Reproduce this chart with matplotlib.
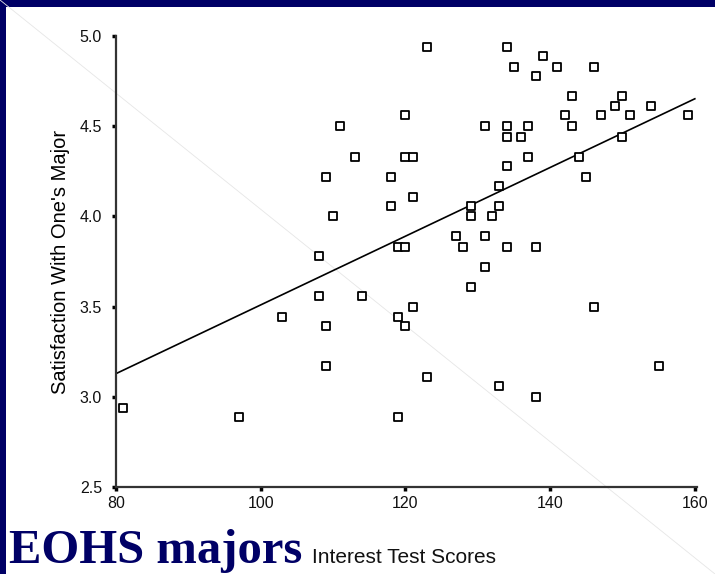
import numpy as np
import matplotlib
matplotlib.use('Agg')
import matplotlib.pyplot as plt
from matplotlib.patches import Rectangle

# interest test score / satisfaction pairs
scores = [81, 97, 103, 108, 108, 109, 109, 109, 110, 111,
          113, 114, 118, 118, 119, 119, 119, 120, 120, 120,
          120, 121, 121, 121, 123, 123, 127, 128, 129, 129,
          129, 131, 131, 131, 132, 133, 133, 133, 134, 134,
          134, 134, 134, 135, 136, 137, 137, 138, 138, 138,
          139, 141, 142, 143, 143, 144, 145, 146, 146, 147,
          149, 150, 150, 151, 154, 155, 159]
satisfaction = [2.94, 2.89, 3.44, 3.78, 3.56, 4.22, 3.39, 3.17, 4.00, 4.50,
                4.33, 3.56, 4.22, 4.06, 3.83, 3.44, 2.89, 4.56, 4.33, 3.83,
                3.39, 4.11, 3.50, 4.33, 4.94, 3.11, 3.89, 3.83, 4.06, 4.00,
                3.61, 4.50, 3.89, 3.72, 4.00, 4.17, 4.06, 3.06, 4.94, 4.50,
                4.44, 4.28, 3.83, 4.83, 4.44, 4.50, 4.33, 4.78, 3.83, 3.00,
                4.89, 4.83, 4.56, 4.50, 4.67, 4.33, 4.22, 4.83, 3.50, 4.56,
                4.61, 4.67, 4.44, 4.56, 4.61, 3.17, 4.56]
xticks = [80, 100, 120, 140, 160]
yticks = [2.5, 3.0, 3.5, 4.0, 4.5, 5.0]

navy = '#000066'

fig = plt.figure(figsize=(7.15, 5.74), dpi=100)
fig.patch.set_facecolor(navy)

# background axes: white slide (navy frame only top and left) + faint diagonal
bg = fig.add_axes([0, 0, 1, 1], zorder=-1)
bg.set_xlim(0, 1)
bg.set_ylim(0, 1)
bg.axis('off')
bg.add_patch(Rectangle((6/715., 0), 1, 1 - 7/574., facecolor='white', edgecolor='none'))
bg.plot([0, 1], [1, 0], color='#e6e6e6', lw=0.6)

ax = fig.add_axes([116/715., 1 - 487/574., 581/715., 451/574.])
ax.patch.set_alpha(0)

ax.scatter(scores, satisfaction, marker='s', s=26, facecolors='white',
           edgecolors='black', linewidths=1.3, zorder=3)

# fit line
b, a = np.polyfit(scores, satisfaction, 1)
xs = np.array([80, 160])
ax.plot(xs, a + b*xs, color='black', lw=1.2, zorder=2)

ax.set_xlim(80, 160.3)
ax.set_ylim(2.5, 5.0)
ax.set_xticks(xticks)
ax.set_yticks(yticks)
ax.set_xticklabels([str(t) for t in xticks])
ax.set_yticklabels(['%.1f' % t for t in yticks])

for s in ['top', 'right']:
    ax.spines[s].set_visible(False)
for s in ['left', 'bottom']:
    ax.spines[s].set_color('#333333')
    ax.spines[s].set_linewidth(1.6)
ax.tick_params(length=3, width=2.5, color='black', direction='out',
               labelsize=11.5, labelcolor='#111111')
ax.tick_params(axis='y', pad=7)
ax.tick_params(axis='x', pad=3.5)
for lab in ax.get_xticklabels() + ax.get_yticklabels():
    lab.set_family('Liberation Sans')

ax.set_ylabel("Satisfaction With One's Major", fontsize=14.5,
              family='Liberation Sans', labelpad=7)

fig.text(9/715., 1 - 563/574., 'EOHS majors', family='Liberation Serif',
         fontweight='bold', fontsize=35, color=navy)
fig.text(312/715., 1 - 563/574., 'Interest Test Scores', family='Liberation Sans',
         fontsize=15, color='#111111')

fig.savefig('out.png', dpi=100, facecolor=fig.get_facecolor())
